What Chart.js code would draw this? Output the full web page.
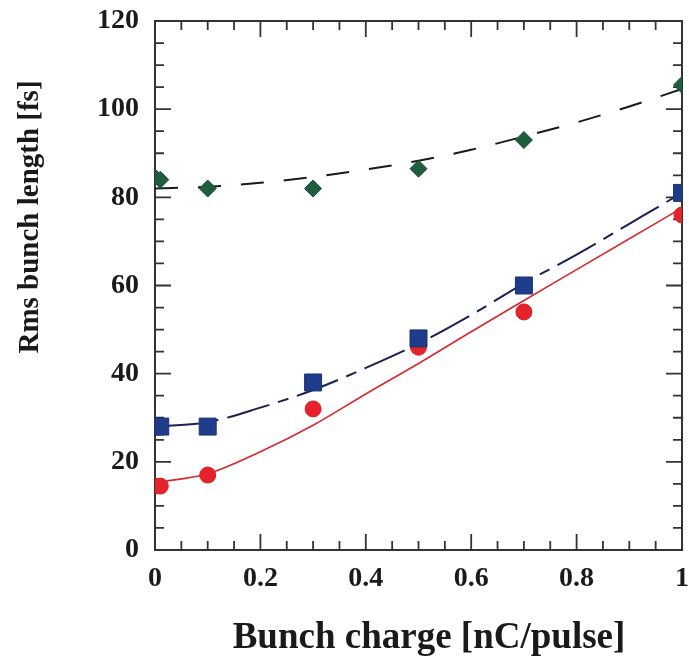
<!DOCTYPE html>
<html>
<head>
<meta charset="utf-8">
<script src="https://cdn.jsdelivr.net/npm/chart.js@4.4.1/dist/chart.umd.min.js"></script>
<style>
  html, body { margin: 0; padding: 0; background: #fff; overflow: hidden; }
  #wrap { width: 689px; height: 657px; position: relative; overflow: hidden; }
</style>
</head>
<body>
<div id="wrap"><canvas id="c" width="701" height="657"></canvas></div>
<script>
// Measured rms bunch length [fs] versus bunch charge [nC/pulse]
const chargeMeasured = [0, 0.01, 0.1, 0.3, 0.5, 0.7, 1.0];
const lengthGreen = [84.5, 84, 82, 82, 86.5, 93, 105.5];
const lengthBlue  = [28, 28, 28, 38, 48, 60, 81];
const lengthRed   = [14.5, 14.5, 17, 32, 46, 54, 76];

// Fitted trend curves
const chargeFit = [0, 0.1, 0.2, 0.3, 0.4, 0.5, 0.6, 0.7, 0.8, 0.9, 1.0];
const fitGreen = [82, 82.4, 83.3, 84.6, 86.3, 88.3, 90.8, 93.8, 97, 100.6, 104.6];
const fitBlue  = [28, 29, 32.3, 36.3, 41.3, 46.8, 53.3, 60.5, 67, 74, 81];
const fitRed   = [15.3, 17.3, 22.3, 28.3, 35.4, 42.3, 49.5, 56.6, 63.6, 70.6, 77.6];

// Axis ticks
const xMajorTicks = [0, 0.2, 0.4, 0.6, 0.8, 1];
const xTickLabels = ['0', '0.2', '0.4', '0.6', '0.8', '1'];
const yMajorTicks = [0, 20, 40, 60, 80, 100, 120];
const yTickLabels = ['0', '20', '40', '60', '80', '100', '120'];

const xTitle = 'Bunch charge [nC/pulse]';
const yTitle = 'Rms bunch length [fs]';

const SERIF = '"Liberation Serif", "Times New Roman", serif';
const INK = '#1a1a1a';

const pts = (xs, ys) => xs.map((x, i) => ({ x, y: ys[i] }));
const majorIndex = (v, list) => list.findIndex(m => Math.abs(m - v) < 1e-6);

// Frame with inward major/minor tick marks on all four sides
const framePlugin = {
  id: 'frame',
  beforeDatasetsDraw(chart) {
    const { ctx, chartArea: a, scales } = chart;
    const major = 16, minor = 9;
    ctx.save();
    ctx.strokeStyle = '#333';
    ctx.lineWidth = 2;
    ctx.strokeRect(a.left, a.top, a.right - a.left, a.bottom - a.top);
    ctx.lineWidth = 1.8;
    ctx.beginPath();
    scales.x.ticks.forEach(t => {
      const px = scales.x.getPixelForValue(t.value);
      const len = majorIndex(t.value, xMajorTicks) >= 0 ? major : minor;
      ctx.moveTo(px, a.bottom); ctx.lineTo(px, a.bottom - len);
      ctx.moveTo(px, a.top); ctx.lineTo(px, a.top + len);
    });
    scales.y.ticks.forEach(t => {
      const py = scales.y.getPixelForValue(t.value);
      const len = majorIndex(t.value, yMajorTicks) >= 0 ? major : minor;
      ctx.moveTo(a.left, py); ctx.lineTo(a.left + len, py);
      ctx.moveTo(a.right, py); ctx.lineTo(a.right - len, py);
    });
    ctx.stroke();
    ctx.restore();
  }
};

// Axis titles
const titlePlugin = {
  id: 'axisTitles',
  afterDraw(chart) {
    const { ctx, chartArea: a } = chart;
    ctx.save();
    ctx.fillStyle = INK;
    ctx.textAlign = 'center';
    ctx.textBaseline = 'middle';
    ctx.font = 'bold 37px ' + SERIF;
    ctx.fillText(xTitle, a.left + 274, a.bottom + 88);
    ctx.translate(a.left - 124, a.top + 196);
    ctx.rotate(-Math.PI / 2);
    ctx.font = 'bold 29px ' + SERIF;
    ctx.fillText(yTitle, 0, 0);
    ctx.restore();
  }
};

new Chart(document.getElementById('c'), {
  type: 'line',
  data: {
    datasets: [
      { label: 'blue', data: pts(chargeMeasured, lengthBlue), showLine: false,
        pointStyle: 'rect', pointRadius: 12, backgroundColor: '#1f3c8a', borderColor: '#1a3274', borderWidth: 1 },
      { label: 'red', data: pts(chargeMeasured, lengthRed), showLine: false,
        pointStyle: 'circle', pointRadius: 8, backgroundColor: '#e6232b', borderColor: '#d81e26', borderWidth: 1 },
      { label: 'green', data: pts(chargeMeasured, lengthGreen), showLine: false,
        pointStyle: 'rectRot', pointRadius: 8.5, backgroundColor: '#1e5e3e', borderColor: '#184f33', borderWidth: 1 },
      { label: 'blue fit', data: pts(chargeFit, fitBlue), pointRadius: 0, borderColor: '#1b2150',
        borderWidth: 2, borderDash: [44, 9, 11, 9], cubicInterpolationMode: 'monotone', fill: false },
      { label: 'red fit', data: pts(chargeFit, fitRed), pointRadius: 0, borderColor: '#d42a2e',
        borderWidth: 1.6, cubicInterpolationMode: 'monotone', fill: false },
      { label: 'green fit', data: pts(chargeFit, fitGreen), pointRadius: 0, borderColor: '#1a1a1a',
        borderWidth: 2, borderDash: [23, 20], cubicInterpolationMode: 'monotone', fill: false }
    ]
  },
  options: {
    responsive: false,
    animation: false,
    devicePixelRatio: 1,
    layout: { padding: { left: 95, right: 0, top: 21, bottom: 47 } },
    plugins: { legend: { display: false }, tooltip: { enabled: false } },
    scales: {
      x: {
        type: 'linear', position: 'bottom', min: 0, max: 1,
        grid: { display: false, drawTicks: false }, border: { display: false },
        ticks: {
          stepSize: 0.05, autoSkip: false, maxRotation: 0, padding: 12, color: INK,
          font: { family: SERIF, size: 28, weight: 'bold' },
          callback: v => { const i = majorIndex(v, xMajorTicks); return i >= 0 ? xTickLabels[i] : ''; }
        },
        afterFit: s => { s.height = 60; }
      },
      y: {
        type: 'linear', position: 'left', min: 0, max: 120,
        grid: { display: false, drawTicks: false }, border: { display: false },
        ticks: {
          stepSize: 5, autoSkip: false, padding: 16, color: INK,
          font: { family: SERIF, size: 28, weight: 'bold' },
          callback: v => { const i = majorIndex(v, yMajorTicks); return i >= 0 ? yTickLabels[i] : ''; }
        },
        afterFit: s => { s.width = 60; s.paddingTop = 0; s.paddingBottom = 0; }
      }
    }
  },
  plugins: [framePlugin, titlePlugin]
});
</script>
</body>
</html>
